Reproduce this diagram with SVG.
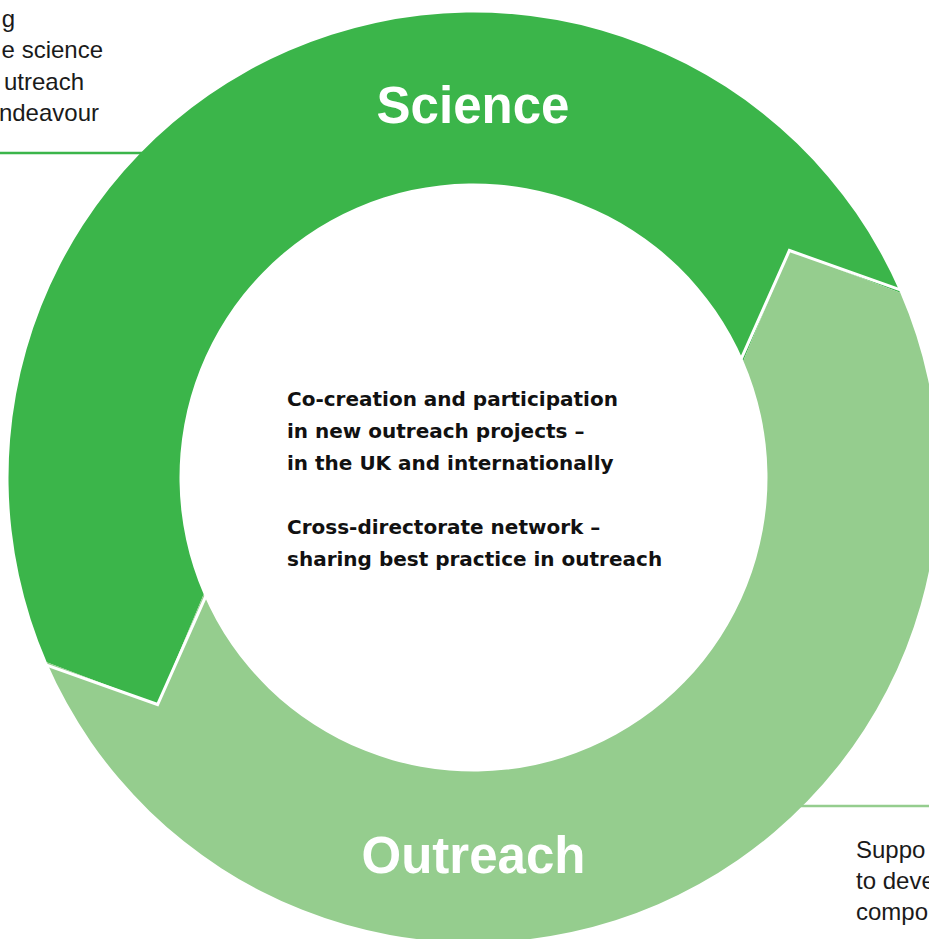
<svg xmlns="http://www.w3.org/2000/svg" width="929" height="939" viewBox="0 0 929 939">
  <style>
    .dark { fill: #3bb54a; }
    .light { fill: #95cd8e; }
    .sep { fill: none; stroke: #ffffff; stroke-width: 3; stroke-linejoin: miter; }
    .head { font-family: "Liberation Sans", Arial, sans-serif; font-weight: bold; font-size: 51px; fill: #ffffff; text-anchor: middle; }
    .body { font-family: "Liberation Sans", Arial, sans-serif; font-size: 24px; fill: #1a1a1a; }
    .center { font-family: "DejaVu Sans", "Liberation Sans", sans-serif; font-weight: bold; font-size: 20px; fill: #111111; }
    .lead-dark { stroke: #3bb54a; stroke-width: 2.5; fill: none; }
    .lead-light { stroke: #95cd8e; stroke-width: 2.5; fill: none; }
  </style>
  <rect width="929" height="939" fill="#ffffff"/>

  <g id="connectors">
    <line class="lead-dark" x1="0" y1="153" x2="170" y2="153"/>
    <line class="lead-light" x1="770" y1="806" x2="929" y2="806"/>
  </g>

  <g id="node-science">
    <path class="dark" d="M 46.75,662.17 A 465 465 0 0 1 288.83,50.75 A 465 465 0 0 1 900.25,292.83 L 789.4,250.5 L 743.32,360.74 A 294 294 0 0 0 356.74,207.68 A 294 294 0 0 0 203.68,594.26 L 157.6,704.5 Z"/>
    <text class="head" x="473" y="123">Science</text>
  </g>

  <g id="node-outreach">
    <path class="light" d="M 900.25,292.83 A 465 465 0 0 1 658.17,904.25 A 465 465 0 0 1 46.75,662.17 L 157.6,704.5 L 203.68,594.26 A 294 294 0 0 0 590.26,747.32 A 294 294 0 0 0 743.32,360.74 L 789.4,250.5 Z"/>
    <text class="head" x="473.5" y="873">Outreach</text>
  </g>

  <g id="separators">
    <polyline class="sep" points="903.9,291.2 789.4,250.5 739.6,362.3"/>
    <polyline class="sep" points="43.1,663.8 157.6,704.5 207.4,592.7"/>
  </g>

  <g id="node-center">
    <text class="center" x="287" y="406">Co-creation and participation</text>
    <text class="center" x="287" y="438">in new outreach projects –</text>
    <text class="center" x="287" y="470">in the UK and internationally</text>
    <text class="center" x="287" y="534">Cross-directorate network –</text>
    <text class="center" x="287" y="566">sharing best practice in outreach</text>
  </g>

  <g id="note-top-left">
    <text class="body" x="15" y="27" text-anchor="end">g</text>
    <text class="body" x="103" y="58" text-anchor="end">e science</text>
    <text class="body" x="84" y="90" text-anchor="end">utreach</text>
    <text class="body" x="99" y="121" text-anchor="end">ndeavour</text>
  </g>

  <g id="note-bottom-right">
    <text class="body" x="856" y="858">Suppo</text>
    <text class="body" x="856" y="889">to deve</text>
    <text class="body" x="856" y="920">compo</text>
  </g>
</svg>
